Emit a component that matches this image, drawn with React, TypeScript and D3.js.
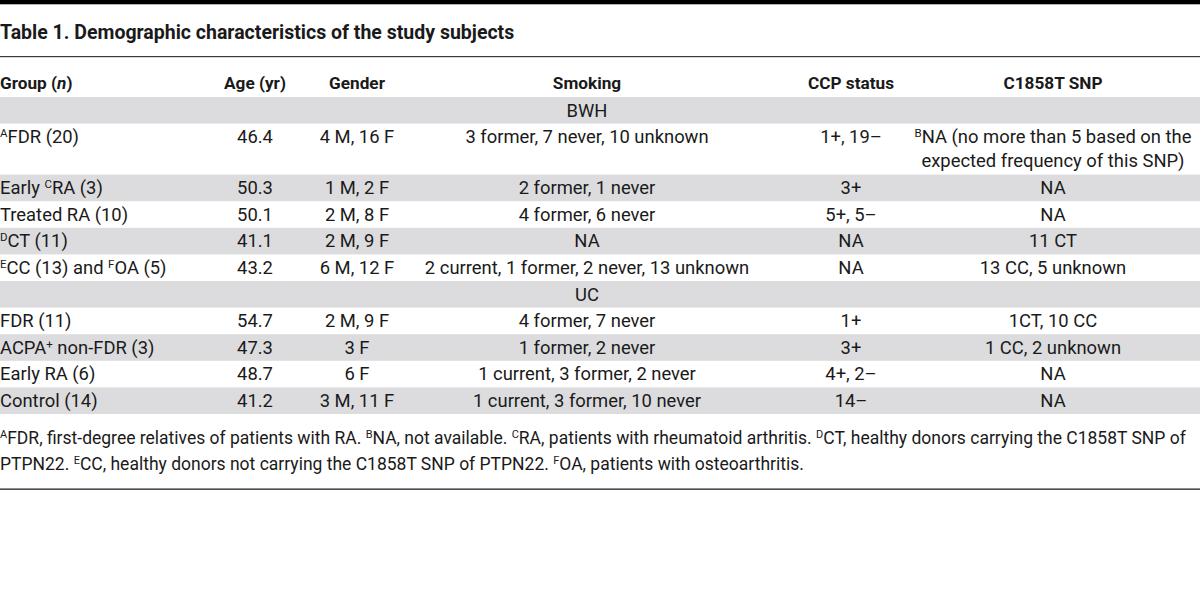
import React, { useEffect, useRef } from 'react';
import * as d3 from 'd3';

// table content
const title = 'Table 1. Demographic characteristics of the study subjects';
const headers = ['Group (*n*)', 'Age (yr)', 'Gender', 'Smoking', 'CCP status', 'C1858T SNP'];
const sections = ['BWH', 'UC'];
const groups = [
  '^AFDR (20)',
  'Early ^CRA (3)',
  'Treated RA (10)',
  '^DCT (11)',
  '^ECC (13) and ^FOA (5)',
  'FDR (11)',
  'ACPA^+ non-FDR (3)',
  'Early RA (6)',
  'Control (14)',
];
const groupSection = [0, 0, 0, 0, 0, 1, 1, 1, 1];
const ages = [46.4, 50.3, 50.1, 41.1, 43.2, 54.7, 47.3, 48.7, 41.2];
const genders = ['4 M, 16 F', '1 M, 2 F', '2 M, 8 F', '2 M, 9 F', '6 M, 12 F', '2 M, 9 F', '3 F', '6 F', '3 M, 11 F'];
const smoking = [
  '3 former, 7 never, 10 unknown',
  '2 former, 1 never',
  '4 former, 6 never',
  'NA',
  '2 current, 1 former, 2 never, 13 unknown',
  '4 former, 7 never',
  '1 former, 2 never',
  '1 current, 3 former, 2 never',
  '1 current, 3 former, 10 never',
];
const ccp = ['1+, 19–', '3+', '5+, 5–', 'NA', 'NA', '1+', '3+', '4+, 2–', '14–'];
const snp = [
  '^BNA (no more than 5 based on the|expected frequency of this SNP)',
  'NA',
  'NA',
  '11 CT',
  '13 CC, 5 unknown',
  '1CT, 10 CC',
  '1 CC, 2 unknown',
  'NA',
  'NA',
];
const footnotes = [
  '^AFDR, first-degree relatives of patients with RA. ^BNA, not available. ^CRA, patients with rheumatoid arthritis. ^DCT, healthy donors carrying the C1858T SNP of',
  'PTPN22. ^ECC, healthy donors not carrying the C1858T SNP of PTPN22. ^FOA, patients with osteoarthritis.',
];

const W = 1200;
const H = 596;
const FONT = "Roboto, 'Liberation Sans', sans-serif";
const INK = '#1a1a1a';
const GRAY = '#dcdcde';

type Row = { section?: string; cells?: string[] };

const addRich = (
  sel: d3.Selection<SVGTextElement, unknown, null, undefined>,
  str: string,
  supSize: number,
) => {
  const parts = str.split(/(\^[A-Z+]|\*[^*]+\*)/).filter((p) => p !== '');
  let raised = false;
  parts.forEach((p) => {
    if (p.startsWith('^')) {
      sel.append('tspan').attr('font-size', supSize).attr('dy', -6).text(p.slice(1));
      raised = true;
    } else {
      const t = sel.append('tspan').attr('dy', raised ? 6 : 0);
      raised = false;
      if (p.startsWith('*')) t.attr('font-style', 'italic').text(p.slice(1, -1));
      else t.text(p);
    }
  });
};

export default function App() {
  const ref = useRef<SVGSVGElement>(null);

  useEffect(() => {
    document.body.style.margin = '0';
    const svg = d3.select(ref.current);
    svg.selectAll('*').remove();

    const colX = [0, 255, 357, 587, 851, 1053];
    const anchor = (i: number) => (i === 0 ? 'start' : 'middle');
    const bodySize = 18.4;

    // build rows: section bars followed by their groups
    const rows: Row[] = [];
    sections.forEach((s, si) => {
      rows.push({ section: s });
      groups.forEach((g, gi) => {
        if (groupSection[gi] !== si) return;
        rows.push({
          cells: [g, d3.format('.1f')(ages[gi]), genders[gi], smoking[gi], ccp[gi], snp[gi]],
        });
      });
    });

    const lineH = 24;
    const rowH = (r: Row) => {
      const n = r.cells ? d3.max(r.cells, (c) => c.split('|').length)! : 1;
      return n === 1 ? 26.6 : 26.6 + (n - 1) * lineH + 0.4;
    };
    const tableTop = 97;
    const tops = [tableTop, ...Array.from(d3.cumsum(rows, rowH)).map((v) => tableTop + v)];

    // top rule, title, rule
    svg.append('rect').attr('x', 0).attr('y', 0).attr('width', W).attr('height', 4.3).attr('fill', '#000');
    svg
      .append('text')
      .attr('x', 0)
      .attr('y', 38.8)
      .attr('font-family', FONT)
      .attr('font-weight', 700)
      .attr('font-size', 19.5)
      .attr('fill', INK)
      .text(title);
    svg.append('rect').attr('x', 0).attr('y', 56).attr('width', W).attr('height', 1.2).attr('fill', '#3a3a3a');

    // header
    headers.forEach((h, i) => {
      const t = svg
        .append('text')
        .attr('x', colX[i])
        .attr('y', 89)
        .attr('text-anchor', anchor(i))
        .attr('font-family', FONT)
        .attr('font-weight', 700)
        .attr('font-size', 17.2)
        .attr('fill', INK);
      addRich(t, h, 11);
    });

    // body rows
    rows.forEach((r, ri) => {
      const y0 = tops[ri];
      if (ri % 2 === 0) {
        svg.append('rect').attr('x', 0).attr('y', y0).attr('width', W).attr('height', rowH(r)).attr('fill', GRAY);
      }
      const base = y0 + 19.5;
      if (r.section) {
        svg
          .append('text')
          .attr('x', colX[3])
          .attr('y', base)
          .attr('text-anchor', 'middle')
          .attr('font-family', FONT)
          .attr('font-size', bodySize)
          .attr('fill', INK)
          .text(r.section);
        return;
      }
      r.cells!.forEach((c, ci) => {
        c.split('|').forEach((line, li) => {
          const t = svg
            .append('text')
            .attr('x', colX[ci])
            .attr('y', base + li * lineH)
            .attr('text-anchor', anchor(ci))
            .attr('font-family', FONT)
            .attr('font-size', bodySize)
            .attr('fill', INK);
          addRich(t, line, 11.5);
        });
      });
    });

    // footnotes and bottom rule
    const tableBottom = tops[tops.length - 1];
    footnotes.forEach((f, i) => {
      const t = svg
        .append('text')
        .attr('x', 0)
        .attr('y', tableBottom + 29.5 + i * 26)
        .attr('font-family', FONT)
        .attr('font-size', 17.5)
        .attr('fill', INK);
      addRich(t, f, 11);
    });
    svg.append('rect').attr('x', 0).attr('y', 488.5).attr('width', W).attr('height', 1.3).attr('fill', '#222');
  }, []);

  return <svg ref={ref} width={W} height={H} viewBox={`0 0 ${W} ${H}`} style={{ display: 'block', background: '#fff' }} />;
}
